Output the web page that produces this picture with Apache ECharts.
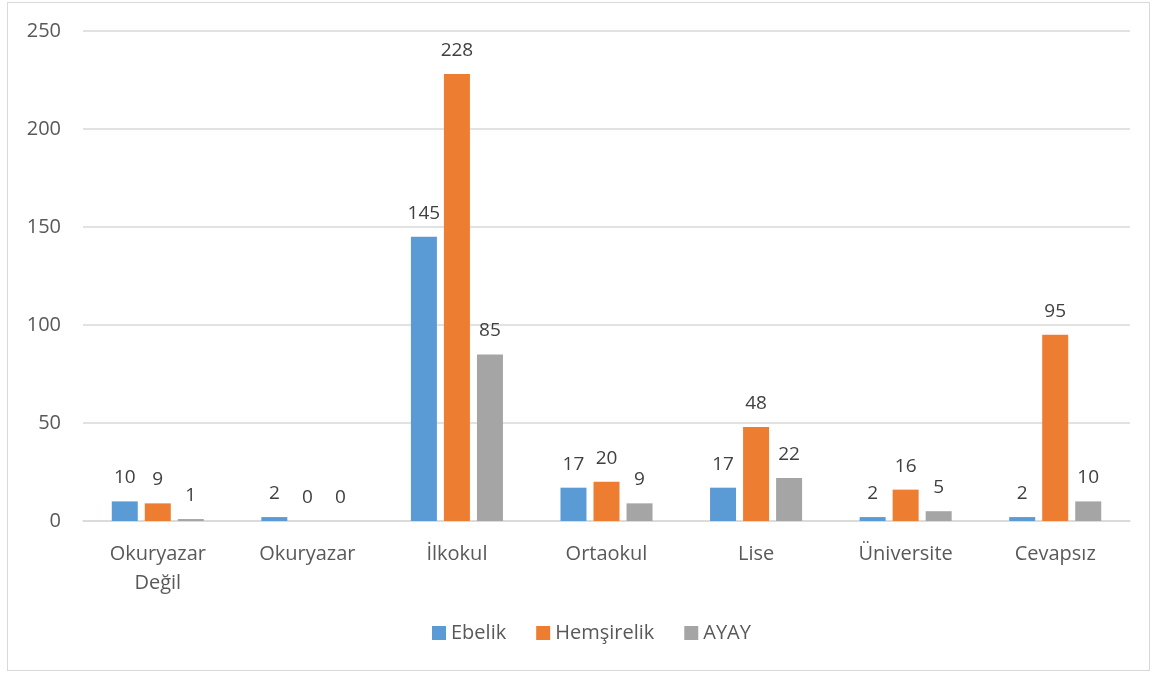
<!DOCTYPE html>
<html>
<head>
<meta charset="utf-8">
<script src="https://cdn.jsdelivr.net/npm/echarts@6/dist/echarts.min.js"></script>
<style>
  html, body { margin: 0; padding: 0; background: #fff; }
  #frame { position: absolute; left: 7px; top: 2px; width: 1143px; height: 669px; border: 1.5px solid #d9d9d9; box-sizing: border-box; }
  #container { position: absolute; left: 0; top: 0; width: 1155px; height: 675px; }
</style>
</head>
<body>
<div id="frame"></div>
<div id="container"></div>
<script>
var categories = ['Okuryazar\nDeğil', 'Okuryazar', 'İlkokul', 'Ortaokul', 'Lise', 'Üniversite', 'Cevapsız'];
var ebelik = [10, 2, 145, 17, 17, 2, 2];
var hemsirelik = [9, 0, 228, 20, 48, 16, 95];
var ayay = [1, 0, 85, 9, 22, 5, 10];
var seriesNames = ['Ebelik', 'Hemşirelik', 'AYAY'];

var dom = document.getElementById('container');
var myChart = echarts.init(dom);
var fontFam = '"Open Sans", "Noto Sans", sans-serif';
var labelStyle = {
    show: true,
    position: 'top',
    distance: 14,
    color: '#404040',
    fontSize: 19,
    fontFamily: fontFam
};
function bar(name, data, color) {
    return {
        name: name,
        type: 'bar',
        data: data,
        barWidth: 26,
        barGap: '27%',
        itemStyle: { color: color },
        label: labelStyle
    };
}
var option = {
    animation: false,
    color: ['#5b9bd5', '#ed7d31', '#a5a5a5'],
    grid: { left: 83, right: 25, top: 31, bottom: 154 },
    legend: {
        bottom: 27,
        left: 427,
        itemWidth: 14,
        itemHeight: 14,
        itemGap: 30,
        icon: 'rect',
        textStyle: { color: '#595959', fontSize: 20, fontFamily: fontFam },
        data: seriesNames
    },
    xAxis: {
        type: 'category',
        data: categories,
        axisLine: { lineStyle: { color: '#d9d9d9', width: 1.5 } },
        axisTick: { show: false },
        axisLabel: { color: '#595959', fontSize: 20, fontFamily: fontFam, margin: 19, lineHeight: 29, interval: 0 }
    },
    yAxis: {
        type: 'value',
        min: 0,
        max: 250,
        interval: 50,
        axisLine: { show: false },
        axisTick: { show: false },
        splitLine: { lineStyle: { color: '#d9d9d9', width: 1.5 } },
        axisLabel: { color: '#595959', fontSize: 20, fontFamily: fontFam, margin: 22 }
    },
    series: [
        bar(seriesNames[0], ebelik, '#5b9bd5'),
        bar(seriesNames[1], hemsirelik, '#ed7d31'),
        bar(seriesNames[2], ayay, '#a5a5a5')
    ]
};
myChart.setOption(option, true);
</script>
</body>
</html>
